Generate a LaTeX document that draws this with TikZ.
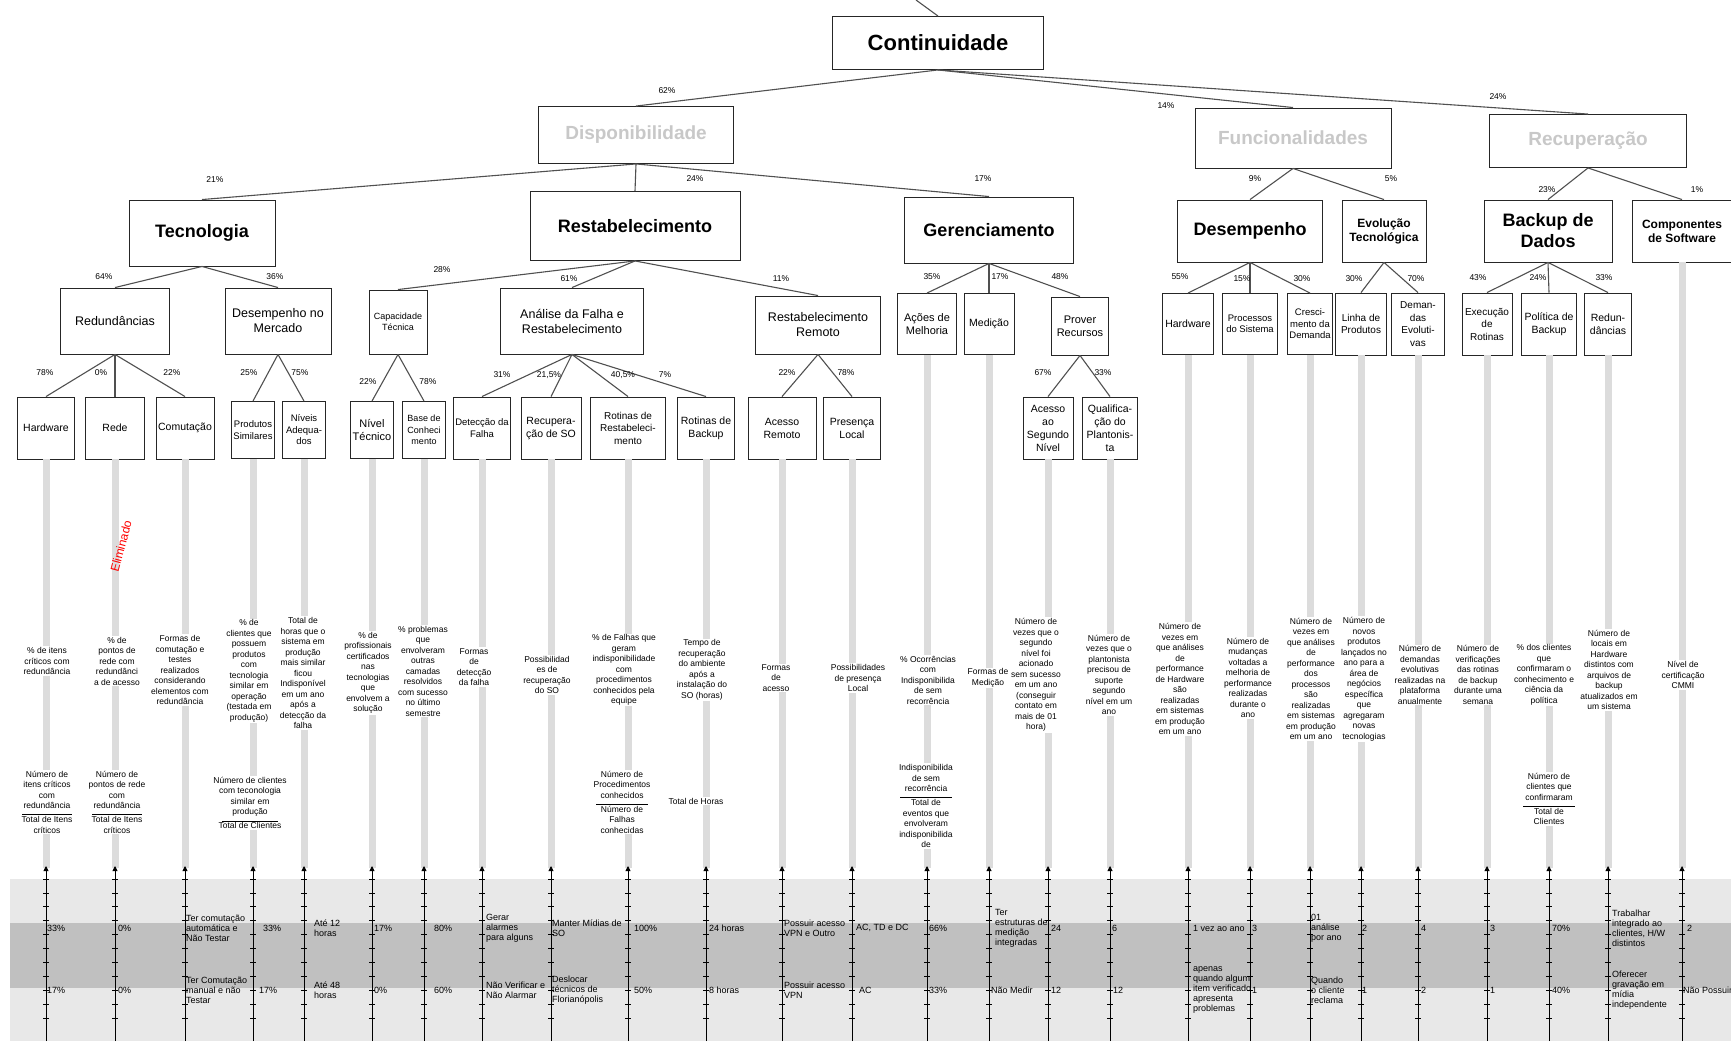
\documentclass[tikz,border=0pt]{standalone}
\usepackage{fontspec}
\setmainfont{Liberation Sans}
\usetikzlibrary{positioning,arrows.meta}
\definecolor{BandLight}{HTML}{E8E8E8}
\definecolor{BandDark}{HTML}{C0C0C0}
\definecolor{BarGray}{HTML}{DCDCDC}
\definecolor{EdgeGray}{HTML}{505050}
\definecolor{DimText}{HTML}{C8C8C8}

\begin{document}
\begin{tikzpicture}[
  x=1pt, y=-1pt,
  box/.style={draw=black!85, fill=white, line width=0.9pt, align=center, inner sep=1pt},
  topbox/.style={box, font=\bfseries\fontsize{22}{24}\selectfont},
  areabox/.style={box, text=DimText, font=\bfseries\fontsize{19}{21}\selectfont},
  catbox/.style={box, font=\bfseries\fontsize{18}{21}\selectfont},
  catsmall/.style={box, font=\bfseries\fontsize{12}{14}\selectfont},
  subbox/.style={box, font=\fontsize{12.5}{15}\selectfont},
  leafbox/.style={box, font=\fontsize{10.5}{13}\selectfont},
  leaftight/.style={box, font=\fontsize{9.5}{11.5}\selectfont},
  link/.style={draw=EdgeGray, line width=1.1pt},
  pct/.style={inner sep=0pt, font=\fontsize{8.5}{10}\selectfont},
  desc/.style={fill=white, align=center, inner sep=1pt, font=\fontsize{8.5}{10.5}\selectfont},
  lbl/.style={align=left, inner sep=0pt, font=\fontsize{9}{10}\selectfont},
  leafbar/.style={draw=BarGray, line width=7pt},
  scalearrow/.style={-{Triangle[length=5pt,width=5pt]}, line width=0.9pt},
  tickmark/.style={line width=0.8pt}
]
\useasboundingbox (0,0) rectangle (1731,1041);

% faixas da escala
\fill[BandLight] (10,879) rectangle (1731,1041);
\fill[BandDark] (10,923) rectangle (1731,988);

% raiz e areas
\node[topbox, minimum width=211pt, minimum height=53pt] (cont) at (938,43) {Continuidade};
\node[areabox, minimum width=195pt, minimum height=57pt] (disp) at (636,135) {Disponibilidade};
\node[areabox, minimum width=196pt, minimum height=60pt] (func) at (1293,138) {Funcionalidades};
\node[areabox, minimum width=197pt, minimum height=53pt] (recup) at (1588,141) {Recuperação};

% criterios
\node[catbox, minimum width=146pt, minimum height=66pt] (tec) at (202,233) {Tecnologia};
\node[catbox, minimum width=210pt, minimum height=69pt] (restab) at (635,226) {Restabelecimento};
\node[catbox, minimum width=169pt, minimum height=66pt] (geren) at (989,230) {Gerenciamento};
\node[catbox, minimum width=145pt, minimum height=62pt] (desemp) at (1250,231) {Desempenho};
\node[catsmall, minimum width=84pt, minimum height=62pt] (evol) at (1384,231) {Evolução\\Tecnológica};
\node[catbox, minimum width=128pt, minimum height=62pt] (backup) at (1548,231) {Backup de\\Dados};
\node[catsmall, minimum width=100pt, minimum height=62pt] (comps) at (1682,231) {Componentes\\de Software};

% subcriterios
\node[subbox, minimum width=109pt, minimum height=66pt] (redund) at (115,321) {Redundâncias};
\node[subbox, minimum width=106pt, minimum height=66pt] (desmerc) at (278,321) {Desempenho no\\Mercado};
\node[box, font=\fontsize{9}{11}\selectfont, minimum width=58pt, minimum height=64pt] (captec) at (398,322) {Capacidade\\Técnica};
\node[subbox, minimum width=143pt, minimum height=66pt] (analise) at (572,321) {Análise da Falha e\\Restabelecimento};
\node[subbox, minimum width=125pt, minimum height=58pt] (restrem) at (818,325) {Restabelecimento\\Remoto};
\node[leafbox, font=\fontsize{11}{13}\selectfont, minimum width=59pt, minimum height=61pt] (acoes) at (927,324) {Ações de\\Melhoria};
\node[leafbox, minimum width=50pt, minimum height=61pt] (medicao) at (989,324) {Medição};
\node[leafbox, font=\fontsize{11}{13}\selectfont, minimum width=57pt, minimum height=58pt] (prover) at (1080,326) {Prover\\Recursos};
\node[leafbox, minimum width=51pt, minimum height=61pt] (hwdes) at (1188,324) {Hardware};
\node[leaftight, minimum width=55pt, minimum height=61pt] (procsis) at (1250,324) {Processos\\do Sistema};
\node[leaftight, minimum width=45pt, minimum height=61pt] (cresc) at (1310,324) {Cresci-\\mento da\\Demanda};
\node[leafbox, font=\fontsize{10}{12.5}\selectfont, minimum width=51pt, minimum height=62pt] (linha) at (1361,324) {Linha de\\Produtos};
\node[leafbox, font=\fontsize{10}{12.5}\selectfont, minimum width=53pt, minimum height=62pt] (demev) at (1418,324) {Deman-\\das\\Evoluti-\\vas};
\node[leafbox, font=\fontsize{10}{12.5}\selectfont, minimum width=50pt, minimum height=62pt] (exrot) at (1487,324) {Execução\\de\\Rotinas};
\node[leafbox, minimum width=55pt, minimum height=62pt] (polbkp) at (1549,324) {Política de\\Backup};
\node[leafbox, minimum width=47pt, minimum height=62pt] (redbkp) at (1608,324) {Redun-\\dâncias};

% folhas
\node[leafbox, minimum width=57pt, minimum height=62pt] (hw) at (46,428) {Hardware};
\node[leafbox, minimum width=59pt, minimum height=62pt] (rede) at (115,428) {Rede};
\node[leafbox, minimum width=58pt, minimum height=62pt] (comut) at (185,428) {Comutação};
\node[leaftight, minimum width=43pt, minimum height=57pt] (prodsim) at (253,430) {Produtos\\Similares};
\node[leaftight, minimum width=43pt, minimum height=57pt] (niveis) at (304,430) {Níveis\\Adequa-\\dos};
\node[leafbox, font=\fontsize{11}{13}\selectfont, minimum width=43pt, minimum height=57pt] (nivtec) at (372,430) {Nível\\Técnico};
\node[box, font=\fontsize{9}{11.5}\selectfont, minimum width=43pt, minimum height=57pt] (basecon) at (424,430) {Base de\\Conheci\\mento};
\node[leaftight, minimum width=57pt, minimum height=62pt] (detec) at (482,428) {Detecção da\\Falha};
\node[leafbox, minimum width=60pt, minimum height=62pt] (recso) at (551,428) {Recupera-\\ção de SO};
\node[leafbox, font=\fontsize{10}{12.5}\selectfont, minimum width=75pt, minimum height=62pt] (rotrest) at (628,428) {Rotinas de\\Restabeleci-\\mento};
\node[leafbox, minimum width=57pt, minimum height=62pt] (rotbkp) at (706,428) {Rotinas de\\Backup};
\node[leafbox, minimum width=68pt, minimum height=62pt] (acrem) at (782,428) {Acesso\\Remoto};
\node[leafbox, minimum width=57pt, minimum height=62pt] (presloc) at (852,428) {Presença\\Local};
\node[leafbox, minimum width=50pt, minimum height=62pt] (acseg) at (1048,428) {Acesso\\ao\\Segundo\\Nível};
\node[leafbox, minimum width=55pt, minimum height=62pt] (qualif) at (1110,428) {Qualifica-\\ção do\\Plantonis-\\ta};

% ligacoes da arvore
\coordinate (topend) at (916,0);
\draw[link] (cont.north) -- (topend);
\foreach \a/\b in {cont/disp, cont/func, cont/recup, disp/tec, disp/restab, disp/geren,
    func/desemp, func/evol, recup/backup, recup/comps, tec/redund, tec/desmerc,
    redund/hw, redund/rede, redund/comut, desmerc/prodsim, desmerc/niveis,
    restab/captec, restab/analise, restab/restrem, captec/nivtec, captec/basecon,
    analise/detec, analise/recso, analise/rotrest, analise/rotbkp, restrem/acrem, restrem/presloc,
    geren/acoes, geren/medicao, geren/prover, prover/acseg, prover/qualif,
    desemp/hwdes, desemp/procsis, desemp/cresc, evol/linha, evol/demev,
    backup/exrot, backup/polbkp, backup/redbkp}
  \draw[link] (\a.south) -- (\b.north);

% pesos
\node[pct] (w1) at (667,91) {62\%};
\node[pct] (w2) at (1166,106) {14\%};
\node[pct] (w3) at (1498,97) {24\%};
\node[pct] (w4) at (215,180) {21\%};
\node[pct] (w5) at (695,179) {24\%};
\node[pct] (w6) at (983,179) {17\%};
\node[pct] (w7) at (1255,179) {9\%};
\node[pct] (w8) at (1391,179) {5\%};
\node[pct] (w9) at (1547,190) {23\%};
\node[pct] (w10) at (1697,190) {1\%};
\node[pct] (w11) at (104,277) {64\%};
\node[pct] (w12) at (275,277) {36\%};
\node[pct] (w13) at (442,270) {28\%};
\node[pct] (w14) at (569,279) {61\%};
\node[pct] (w15) at (781,279) {11\%};
\node[pct] (w16) at (932,277) {35\%};
\node[pct] (w17) at (1000,277) {17\%};
\node[pct] (w18) at (1060,277) {48\%};
\node[pct] (w19) at (1180,277) {55\%};
\node[pct] (w20) at (1242,279) {15\%};
\node[pct] (w21) at (1302,279) {30\%};
\node[pct] (w22) at (1354,279) {30\%};
\node[pct] (w23) at (1416,279) {70\%};
\node[pct] (w24) at (1478,278) {43\%};
\node[pct] (w25) at (1538,278) {24\%};
\node[pct] (w26) at (1604,278) {33\%};
\node[pct] (w27) at (45,373) {78\%};
\node[pct] (w28) at (101,373) {0\%};
\node[pct] (w29) at (172,373) {22\%};
\node[pct] (w30) at (249,373) {25\%};
\node[pct] (w31) at (300,373) {75\%};
\node[pct] (w32) at (368,382) {22\%};
\node[pct] (w33) at (428,382) {78\%};
\node[pct] (w34) at (502,375) {31\%};
\node[pct] (w35) at (549,375) {21,5\%};
\node[pct] (w36) at (623,375) {40,5\%};
\node[pct] (w37) at (665,375) {7\%};
\node[pct] (w38) at (787,373) {22\%};
\node[pct] (w39) at (846,373) {78\%};
\node[pct] (w40) at (1043,373) {67\%};
\node[pct] (w41) at (1103,373) {33\%};

% barras e escalas
\coordinate (barend) at (0,868);
\coordinate (tip) at (0,866);
\coordinate (bottom) at (0,1041);
\coordinate (tickstart) at (0,879);
\coordinate (upper) at (0,928);
\coordinate (lower) at (0,990);
\foreach \c in {hw,rede,comut,prodsim,niveis,nivtec,basecon,detec,recso,rotrest,rotbkp,acrem,presloc,
    acoes,medicao,acseg,qualif,hwdes,procsis,cresc,linha,demev,exrot,polbkp,redbkp,comps}{
  \draw[leafbar] (\c.south) -- (\c.south |- barend);
  \draw[scalearrow] (\c.south |- bottom) -- (\c.south |- tip);
  \begin{scope}[shift={(\c.south |- tickstart)}]
    \foreach \k in {0,...,10}
      \draw[tickmark] (-3,13.9*\k) -- (3,13.9*\k);
  \end{scope}
}

\node[text=red, rotate=75, font=\fontsize{12}{14}\selectfont] (elim) at (121,546) {Eliminado};

% indicadores
\node[desc] (d1) at (47,661) {\% de itens\\críticos com\\redundância};
\node[desc] (d2) at (117,661) {\% de\\pontos de\\rede com\\redundânci\\a de acesso};
\node[desc] (d3) at (180,670) {Formas de\\comutação e\\testes\\realizados\\considerando\\elementos com\\redundância};
\node[desc] (d4) at (249,671) {\% de\\clientes que\\possuem\\produtos\\com\\tecnologia\\similar em\\operação\\(testada em\\produção)};
\node[desc] (d5) at (303,673) {Total de\\horas que o\\sistema em\\produção\\mais similar\\ficou\\Indisponível\\em um ano\\após a\\detecção da\\falha};
\node[desc] (d6) at (368,673) {\% de\\profissionais\\certificados\\nas\\tecnologias\\que\\envolvem a\\solução};
\node[desc] (d7) at (423,671) {\% problemas\\que\\envolveram\\outras\\camadas\\resolvidos\\com sucesso\\no último\\semestre};
\node[desc] (d8) at (474,667) {Formas\\de\\detecção\\da falha};
\node[desc] (d9) at (547,675) {Possibilidad\\es de\\recuperação\\do SO};
\node[desc] (d10) at (624,670) {\% de Falhas que\\geram\\indisponibilidade\\com\\procedimentos\\conhecidos pela\\equipe};
\node[desc] (d11) at (702,670) {Tempo de\\recuperação\\do ambiente\\após a\\instalação do\\SO (horas)};
\node[desc] (d12) at (776,678) {Formas\\de\\acesso};
\node[desc] (d13) at (858,678) {Possibilidades\\de presença\\Local};
\node[desc] (d14) at (928,680) {\% Ocorrências\\com\\Indisponibilida\\de sem\\recorrência};
\node[desc] (d15) at (988,678) {Formas de\\Medição};
\node[desc] (d16) at (1036,675) {Número de\\vezes que o\\segundo\\nível foi\\acionado\\sem sucesso\\em um ano\\(conseguir\\contato em\\mais de 01\\hora)};
\node[desc] (d17) at (1109,675) {Número de\\vezes que o\\plantonista\\precisou de\\suporte\\segundo\\nível em um\\ano};
\node[desc] (d18) at (1180,679) {Número de\\vezes em\\que análises\\de\\performance\\de Hardware\\são\\realizadas\\em sistemas\\em produção\\em um ano};
\node[desc] (d19) at (1248,678) {Número de\\mudanças\\voltadas a\\melhoria de\\performance\\realizadas\\durante o\\ano};
\node[desc] (d20) at (1311,679) {Número de\\vezes em\\que análises\\de\\performance\\dos\\processos\\são\\realizadas\\em sistemas\\em produção\\em um ano};
\node[desc] (d21) at (1364,679) {Número de\\novos\\produtos\\lançados no\\ano para a\\área de\\negócios\\específica\\que\\agregaram\\novas\\tecnologias};
\node[desc] (d22) at (1420,675) {Número de\\demandas\\evolutivas\\realizadas na\\plataforma\\anualmente};
\node[desc] (d23) at (1478,675) {Número de\\verificações\\das rotinas\\de backup\\durante uma\\semana};
\node[desc] (d24) at (1544,675) {\% dos clientes\\que\\confirmaram o\\conhecimento e\\ciência da\\política};
\node[desc] (d25) at (1609,670) {Número de\\locais em\\Hardware\\distintos com\\arquivos de\\backup\\atualizados em\\um sistema};
\node[desc] (d26) at (1683,675) {Nível de\\certificação\\CMMI};

% formulas
\node[desc] (f1) at (47,802) {Número de\\itens críticos\\com\\redundância\\[-4pt]\rule{50pt}{0.7pt}\\[-3pt]Total de Itens\\críticos};
\node[desc] (f2) at (117,802) {Número de\\pontos de rede\\com\\redundância\\[-4pt]\rule{50pt}{0.7pt}\\[-3pt]Total de Itens\\críticos};
\node[desc] (f4) at (250,803) {Número de clientes\\com teconologia\\similar em\\produção\\[-4pt]\rule{56pt}{0.7pt}\\[-3pt]Total de Clientes};
\node[desc] (f10) at (622,802) {Número de\\Procedimentos\\conhecidos\\[-4pt]\rule{52pt}{0.7pt}\\[-3pt]Número de\\Falhas\\conhecidas};
\node[desc] (f11) at (696,801) {Total de Horas};
\node[desc] (f14) at (926,806) {Indisponibilida\\de sem\\recorrência\\[-4pt]\rule{52pt}{0.7pt}\\[-3pt]Total de\\eventos que\\envolveram\\indisponibilida\\de};
\node[desc] (f24) at (1549,799) {Número de\\clientes que\\confirmaram\\[-4pt]\rule{52pt}{0.7pt}\\[-3pt]Total de\\Clientes};

% niveis da escala
\node[lbl, right=1pt] (u1) at (hw.south |- upper) {33\%};
\node[lbl, right=1pt] (l1) at (hw.south |- lower) {17\%};
\node[lbl, right=3pt] (u2) at (rede.south |- upper) {0\%};
\node[lbl, right=3pt] (l2) at (rede.south |- lower) {0\%};
\node[lbl, right=1pt] (u3) at (comut.south |- upper) {Ter comutação\\automática e\\Não Testar};
\node[lbl, right=1pt] (l3) at (comut.south |- lower) {Ter Comutação\\manual e não\\Testar};
\node[lbl, right=10pt] (u4) at (prodsim.south |- upper) {33\%};
\node[lbl, right=6pt] (l4) at (prodsim.south |- lower) {17\%};
\node[lbl, right=10pt] (u5) at (niveis.south |- upper) {Até 12\\horas};
\node[lbl, right=10pt] (l5) at (niveis.south |- lower) {Até 48\\horas};
\node[lbl, right=2pt] (u6) at (nivtec.south |- upper) {17\%};
\node[lbl, right=2pt] (l6) at (nivtec.south |- lower) {0\%};
\node[lbl, right=10pt] (u7) at (basecon.south |- upper) {80\%};
\node[lbl, right=10pt] (l7) at (basecon.south |- lower) {60\%};
\node[lbl, right=4pt] (u8) at (detec.south |- upper) {Gerar\\alarmes\\para alguns};
\node[lbl, right=4pt] (l8) at (detec.south |- lower) {Não Verificar e\\Não Alarmar};
\node[lbl, right=1pt] (u9) at (recso.south |- upper) {Manter Mídias de\\SO};
\node[lbl, right=1pt] (l9) at (recso.south |- lower) {Deslocar\\técnicos de\\Florianópolis};
\node[lbl, right=6pt] (u10) at (rotrest.south |- upper) {100\%};
\node[lbl, right=6pt] (l10) at (rotrest.south |- lower) {50\%};
\node[lbl, right=3pt] (u11) at (rotbkp.south |- upper) {24 horas};
\node[lbl, right=3pt] (l11) at (rotbkp.south |- lower) {8 horas};
\node[lbl, right=2pt] (u12) at (acrem.south |- upper) {Possuir acesso\\VPN e Outro};
\node[lbl, right=2pt] (l12) at (acrem.south |- lower) {Possuir acesso\\VPN};
\node[lbl, right=4pt] (u13) at (presloc.south |- upper) {AC, TD e DC};
\node[lbl, right=7pt] (l13) at (presloc.south |- lower) {AC};
\node[lbl, right=2pt] (u14) at (acoes.south |- upper) {66\%};
\node[lbl, right=2pt] (l14) at (acoes.south |- lower) {33\%};
\node[lbl, right=6pt] (u15) at (medicao.south |- upper) {Ter\\estruturas de\\medição\\integradas};
\node[lbl, right=2pt] (l15) at (medicao.south |- lower) {Não Medir};
\node[lbl, right=3pt] (u16) at (acseg.south |- upper) {24};
\node[lbl, right=3pt] (l16) at (acseg.south |- lower) {12};
\node[lbl, right=2pt] (u17) at (qualif.south |- upper) {6};
\node[lbl, right=3pt] (l17) at (qualif.south |- lower) {12};
\node[lbl, right=5pt] (u18) at (hwdes.south |- upper) {1 vez ao ano};
\node[lbl, right=5pt] (l18) at (hwdes.south |- lower) {apenas\\quando algum\\item verificado\\apresenta\\problemas};
\node[lbl, right=2pt] (u19) at (procsis.south |- upper) {3};
\node[lbl, right=2pt] (l19) at (procsis.south |- lower) {1};
\node[lbl, right=1pt] (u20) at (cresc.south |- upper) {01\\análise\\por ano};
\node[lbl, right=1pt] (l20) at (cresc.south |- lower) {Quando\\o cliente\\reclama};
\node[lbl, right=1pt] (u21) at (linha.south |- upper) {2};
\node[lbl, right=1pt] (l21) at (linha.south |- lower) {1};
\node[lbl, right=3pt] (u22) at (demev.south |- upper) {4};
\node[lbl, right=3pt] (l22) at (demev.south |- lower) {2};
\node[lbl, right=3pt] (u23) at (exrot.south |- upper) {3};
\node[lbl, right=3pt] (l23) at (exrot.south |- lower) {1};
\node[lbl, right=3pt] (u24) at (polbkp.south |- upper) {70\%};
\node[lbl, right=3pt] (l24) at (polbkp.south |- lower) {40\%};
\node[lbl, right=4pt] (u25) at (redbkp.south |- upper) {Trabalhar\\integrado ao\\clientes, H/W\\distintos};
\node[lbl, right=4pt] (l25) at (redbkp.south |- lower) {Oferecer\\gravação em\\mídia\\independente};
\node[lbl, right=5pt] (u26) at (comps.south |- upper) {2};
\node[lbl, right=1pt] (l26) at (comps.south |- lower) {Não Possuir};
\end{tikzpicture}
\end{document}
